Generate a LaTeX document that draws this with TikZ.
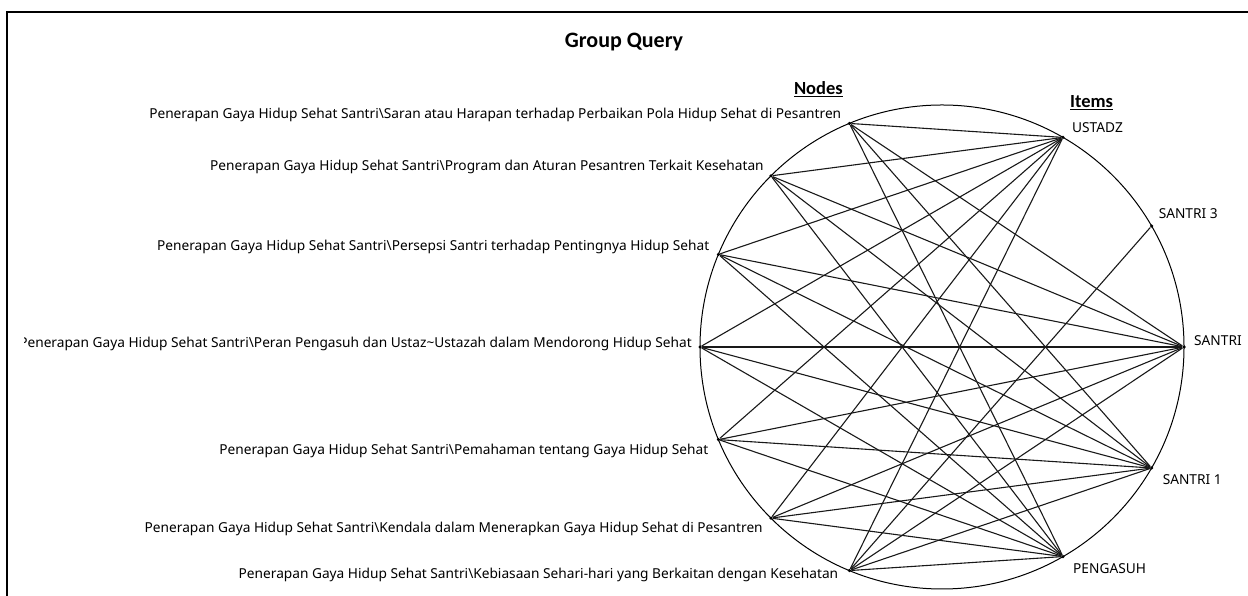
\documentclass[tikz,border=0pt]{standalone}
\usepackage{fontspec}
\setmainfont{Noto Sans}
\newfontfamily\calfont{Carlito}
\usepackage{tikz}
\usetikzlibrary{positioning}

\begin{document}
\begin{tikzpicture}[x=1pt,y=1pt,
  titik/.style={circle, fill=black, inner sep=0pt, minimum size=3.5pt},
  lbl/.style={inner sep=0pt, font=\fontsize{13.7}{15}\selectfont},
  kepala/.style={inner sep=0pt, font=\calfont\bfseries\fontsize{18.5}{20}\selectfont},
  garis/.style={black!90, line width=1.1pt}]
  \useasboundingbox (0,0) rectangle (1248,596);
  % window frame
  \draw[line width=2pt] (7,0) -- (7,584) -- (1248,584);
  \node[font=\calfont\bfseries\fontsize{22}{24}\selectfont] (judul) at (624,554) {Group Query};

  % ring
  \coordinate (pusat) at (942,249);
  \draw[line width=1pt] (pusat) circle (242pt);

  % nodes (left half)
  \path (pusat) ++(112.5:242pt) node[titik] (saran) {};
  \path (pusat) ++(135:242pt)   node[titik] (program) {};
  \path (pusat) ++(157.5:242pt) node[titik] (persepsi) {};
  \path (pusat) ++(180:242pt)   node[titik] (peran) {};
  \path (pusat) ++(202.5:242pt) node[titik] (pemahaman) {};
  \path (pusat) ++(225:242pt)   node[titik] (kendala) {};
  \path (pusat) ++(247.5:242pt) node[titik] (kebiasaan) {};

  % items (right half)
  \path (pusat) ++(60:242pt)  node[titik] (ustadz) {};
  \path (pusat) ++(30:242pt)  node[titik] (santritiga) {};
  \path (pusat) ++(0:242pt)   node[titik] (santri) {};
  \path (pusat) ++(-30:242pt) node[titik] (santrisatu) {};
  \path (pusat) ++(-60:242pt) node[titik] (pengasuh) {};

  % headers
  \node[kepala, anchor=east] (hnodes) at (843,507) {\underline{Nodes}};
  \node[kepala, anchor=west] (hitems) at (1070,493) {\underline{Items}};

  % node labels
  \node[lbl, anchor=east] (lsaran) at ([shift={(-8pt,8pt)}]saran)
    {Penerapan Gaya Hidup Sehat Santri\textbackslash Saran atau Harapan terhadap Perbaikan Pola Hidup Sehat di Pesantren};
  \node[lbl, anchor=east] (lprogram) at ([shift={(-7pt,9pt)}]program)
    {Penerapan Gaya Hidup Sehat Santri\textbackslash Program dan Aturan Pesantren Terkait Kesehatan};
  \node[lbl, anchor=east] (lpersepsi) at ([shift={(-9pt,7pt)}]persepsi)
    {Penerapan Gaya Hidup Sehat Santri\textbackslash Persepsi Santri terhadap Pentingnya Hidup Sehat};
  \begin{scope}
    \clip (24,0) rectangle (1248,596);
    \node[lbl, anchor=east] (lperan) at ([shift={(-8pt,3pt)}]peran)
      {Penerapan Gaya Hidup Sehat Santri\textbackslash Peran Pengasuh dan Ustaz\textasciitilde Ustazah dalam Mendorong Hidup Sehat};
  \end{scope}
  \node[lbl, anchor=east] (lpemahaman) at ([shift={(-10pt,-11pt)}]pemahaman)
    {Penerapan Gaya Hidup Sehat Santri\textbackslash Pemahaman tentang Gaya Hidup Sehat};
  \node[lbl, anchor=east] (lkendala) at ([shift={(-8pt,-11pt)}]kendala)
    {Penerapan Gaya Hidup Sehat Santri\textbackslash Kendala dalam Menerapkan Gaya Hidup Sehat di Pesantren};
  \node[lbl, anchor=east] (lkebiasaan) at ([shift={(-11pt,-4pt)}]kebiasaan)
    {Penerapan Gaya Hidup Sehat Santri\textbackslash Kebiasaan Sehari-hari yang Berkaitan dengan Kesehatan};

  % item labels
  \node[lbl, anchor=west] (lustadz) at ([shift={(9pt,10pt)}]ustadz) {USTADZ};
  \node[lbl, anchor=west] (lsantritiga) at ([shift={(7pt,12pt)}]santritiga) {SANTRI 3};
  \node[lbl, anchor=west] (lsantri) at ([shift={(10pt,6pt)}]santri) {SANTRI};
  \node[lbl, anchor=west] (lsantrisatu) at ([shift={(11pt,-12pt)}]santrisatu) {SANTRI 1};
  \node[lbl, anchor=west] (lpengasuh) at ([shift={(10pt,-12pt)}]pengasuh) {PENGASUH};

  % connectors
  \foreach \n in {saran,program,persepsi,peran,pemahaman,kendala,kebiasaan}
    \foreach \i in {ustadz,santri,santrisatu,pengasuh}
      \draw[garis] (\n) -- (\i);
  \draw[garis] (kebiasaan) -- (santritiga);
\end{tikzpicture}
\end{document}
